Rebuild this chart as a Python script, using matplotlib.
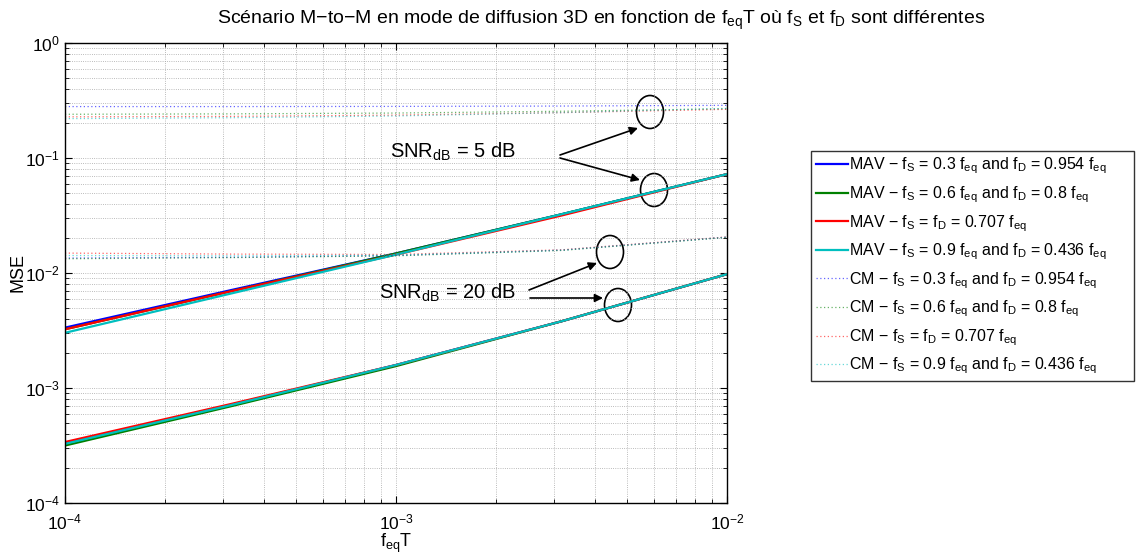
import numpy as np
import matplotlib
matplotlib.use("Agg")
import matplotlib.pyplot as plt
from matplotlib.patches import Ellipse

plt.rcParams["font.family"] = ["Liberation Sans", "DejaVu Sans"]
plt.rcParams["mathtext.fontset"] = "custom"
plt.rcParams["mathtext.rm"] = "Liberation Sans"
plt.rcParams["mathtext.it"] = "Liberation Sans"
plt.rcParams["mathtext.default"] = "regular"

# f_eq T values (log spaced samples)
feqT = [1e-4, 3.16e-4, 1e-3, 3.16e-3, 1e-2]

# MAV, SNR = 5 dB
mav5_blue = [0.00335, 0.00708, 0.0148, 0.0324, 0.0724]
mav5_green = [0.00324, 0.00692, 0.0148, 0.0324, 0.0724]
mav5_red = [0.00324, 0.00692, 0.01445, 0.0316, 0.0724]
mav5_cyan = [0.00302, 0.00661, 0.01445, 0.0324, 0.0724]

# MAV, SNR = 20 dB
mav20_blue = [3.31e-4, 7.08e-4, 1.585e-3, 3.80e-3, 9.77e-3]
mav20_green = [3.16e-4, 6.92e-4, 1.55e-3, 3.80e-3, 9.77e-3]
mav20_red = [3.39e-4, 7.24e-4, 1.585e-3, 3.80e-3, 9.77e-3]
mav20_cyan = [3.27e-4, 7.08e-4, 1.585e-3, 3.80e-3, 9.77e-3]

# CM, SNR = 5 dB
cm5_blue = [0.280, 0.280, 0.281, 0.283, 0.287]
cm5_green = [0.240, 0.242, 0.246, 0.255, 0.268]
cm5_red = [0.228, 0.230, 0.236, 0.248, 0.265]
cm5_cyan = [0.220, 0.224, 0.232, 0.248, 0.270]

# CM, SNR = 20 dB
cm20_blue = [0.0135, 0.0137, 0.0142, 0.0158, 0.0205]
cm20_green = [0.0133, 0.0136, 0.0141, 0.0157, 0.0204]
cm20_red = [0.0149, 0.0146, 0.0145, 0.0159, 0.0206]
cm20_cyan = [0.0142, 0.0141, 0.0143, 0.0158, 0.0205]

labels = [
    r"MAV − f$_S$ = 0.3 f$_{eq}$ and f$_D$ = 0.954 f$_{eq}$",
    r"MAV − f$_S$ = 0.6 f$_{eq}$ and f$_D$ = 0.8 f$_{eq}$",
    r"MAV − f$_S$ = f$_D$ = 0.707 f$_{eq}$",
    r"MAV − f$_S$ = 0.9 f$_{eq}$ and f$_D$ = 0.436 f$_{eq}$",
    r"CM − f$_S$ = 0.3 f$_{eq}$ and f$_D$ = 0.954 f$_{eq}$",
    r"CM − f$_S$ = 0.6 f$_{eq}$ and f$_D$ = 0.8 f$_{eq}$",
    r"CM − f$_S$ = f$_D$ = 0.707 f$_{eq}$",
    r"CM − f$_S$ = 0.9 f$_{eq}$ and f$_D$ = 0.436 f$_{eq}$",
]
colors = ["#0000ff", "#008000", "#ff0000", "#00bfbf"]

W, H = 1137, 556
fig = plt.figure(figsize=(W / 100, H / 100), dpi=100)
ax = fig.add_axes([65 / W, (H - 503) / H, 662 / W, 460 / H])

mav5 = [mav5_blue, mav5_green, mav5_red, mav5_cyan]
mav20 = [mav20_blue, mav20_green, mav20_red, mav20_cyan]
cm5 = [cm5_blue, cm5_green, cm5_red, cm5_cyan]
cm20 = [cm20_blue, cm20_green, cm20_red, cm20_cyan]

handles = []
for i, c in enumerate(colors):
    h, = ax.loglog(feqT, mav5[i], color=c, lw=1.6)
    ax.loglog(feqT, mav20[i], color=c, lw=1.6)
    handles.append(h)
for i, c in enumerate(colors):
    h, = ax.loglog(feqT, cm5[i], color=c, lw=0.9, ls=(0, (1, 2)), alpha=0.6)
    ax.loglog(feqT, cm20[i], color=c, lw=0.9, ls=(0, (1, 2)), alpha=0.6)
    handles.append(h)

ax.set_xlim(1e-4, 1e-2)
ax.set_ylim(1e-4, 1)
ax.grid(True, which="both", ls=":", color="0.65", lw=0.6)
ax.tick_params(which="both", direction="in", top=True, right=True, labelsize=12.5)
ax.tick_params(axis="x", which="major", pad=7)
ax.tick_params(which="major", length=5)
ax.tick_params(which="minor", length=3)
for s in ax.spines.values():
    s.set_linewidth(1.0)

ax.set_xlabel(r"f$_{eq}$T", fontsize=13, va="top")
ax.xaxis.set_label_coords(0.5, -0.062)
ax.set_ylabel("MSE", fontsize=13, va="center")
ax.yaxis.set_label_coords(-0.071, 0.5)
fig.text(601 / W, 1 - 20 / H,
         r"Scénario M−to−M en mode de diffusion 3D en fonction de f$_{eq}$T où f$_S$ et f$_D$ sont différentes",
         ha="center", va="center", fontsize=14)


def px(x, y):
    # figure pixel -> axes fraction
    return ((x - 65) / 662, (503 - y) / 460)


for cx, cy in [(650, 112), (654, 190), (610, 252), (618, 305)]:
    e = Ellipse(px(cx, cy), 27 / 662, 33 / 460, transform=ax.transAxes,
                fill=False, ec="black", lw=1.2, clip_on=False)
    ax.add_patch(e)

ax.text(*px(390, 152), r"SNR$_{dB}$ = 5 dB", transform=ax.transAxes,
        fontsize=14.5, va="center", ha="left")
ax.text(*px(379, 293), r"SNR$_{dB}$ = 20 dB", transform=ax.transAxes,
        fontsize=14.5, va="center", ha="left")
arrows = [((560, 155), (638, 128)), ((560, 158), (640, 180)),
          ((529, 290), (597, 263)), ((530, 298), (603, 298))]
for (x0, y0), (x1, y1) in arrows:
    ax.annotate("", xy=px(x1, y1), xytext=px(x0, y0),
                xycoords="axes fraction", textcoords="axes fraction",
                arrowprops=dict(arrowstyle="-|>", color="black", lw=1.2,
                                mutation_scale=12, shrinkA=0, shrinkB=0))

leg = fig.legend(handles, labels, loc="upper left",
                 bbox_to_anchor=(811 / W, 1 - 381 / H, 323 / W, 230 / H),
                 mode="expand", fontsize=11.5,
                 frameon=True, fancybox=False, edgecolor="black",
                 borderpad=0.3, handlelength=2.0, handletextpad=0.1,
                 labelspacing=0.5, borderaxespad=0)
leg.get_frame().set_linewidth(1.0)

fig.savefig("out.png", dpi=100)
